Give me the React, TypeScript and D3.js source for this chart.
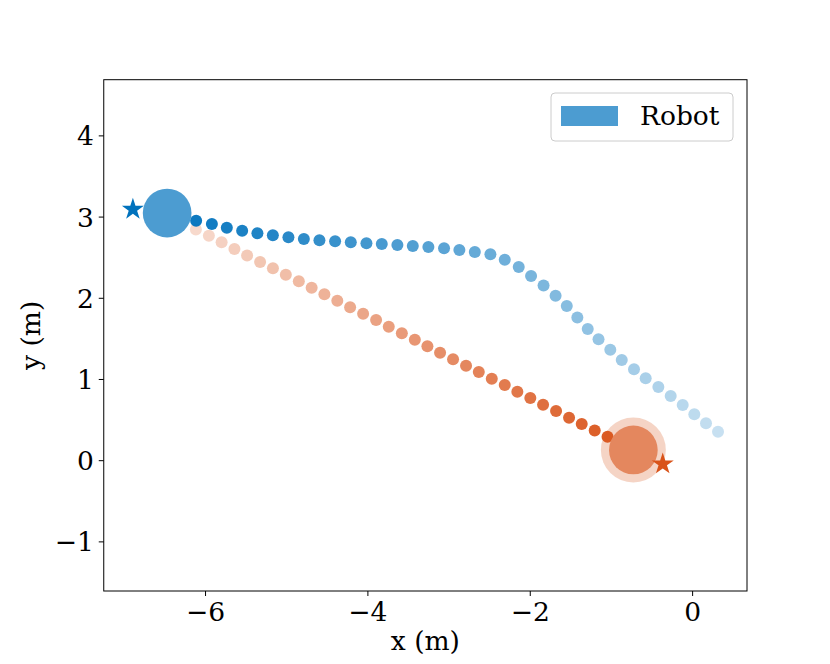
import * as d3 from 'd3';

// robot trajectory (blue), fades out along the path
const blueX = [-6.116, -5.922, -5.738, -5.549, -5.361, -5.171, -4.979, -4.789, -4.597, -4.404, -4.211, -4.018, -3.829, -3.637, -3.447, -3.255, -3.062, -2.873, -2.683, -2.491, -2.314, -2.142, -1.99, -1.836, -1.688, -1.55, -1.42, -1.292, -1.159, -1.014, -0.873, -0.722, -0.578, -0.422, -0.27, -0.122, 0.021, 0.165, 0.313];
const blueY = [2.956, 2.915, 2.869, 2.833, 2.8, 2.776, 2.751, 2.73, 2.714, 2.702, 2.691, 2.677, 2.669, 2.656, 2.644, 2.632, 2.616, 2.595, 2.57, 2.542, 2.475, 2.385, 2.275, 2.158, 2.032, 1.905, 1.764, 1.622, 1.495, 1.367, 1.24, 1.126, 1.015, 0.908, 0.797, 0.686, 0.571, 0.461, 0.357];

// human trajectory (orange)
const orangeX = [-6.119, -5.959, -5.802, -5.644, -5.488, -5.328, -5.17, -5.011, -4.851, -4.693, -4.536, -4.377, -4.219, -4.059, -3.899, -3.743, -3.582, -3.422, -3.267, -3.111, -2.951, -2.791, -2.634, -2.474, -2.314, -2.159, -1.999, -1.842, -1.682, -1.522, -1.366, -1.206, -1.048];
const orangeY = [2.847, 2.77, 2.69, 2.607, 2.527, 2.447, 2.369, 2.289, 2.211, 2.131, 2.05, 1.97, 1.89, 1.81, 1.733, 1.65, 1.569, 1.49, 1.409, 1.33, 1.249, 1.17, 1.092, 1.01, 0.932, 0.85, 0.772, 0.69, 0.612, 0.53, 0.452, 0.372, 0.296];

const robotPos = [-6.473, 3.05];
const robotGoal = [-6.895, 3.096];
const humanPos = [-0.73, 0.132];
const humanGoal = [-0.368, -0.041];
const bodyRadius = 0.3;
const haloRadius = 0.4;

const xTicks = [-6, -4, -2, 0];
const yTicks = [-1, 0, 1, 2, 3, 4];
const legendLabels = ['Robot'];

const BLUE = '#0072bd';
const ORANGE = '#d95319';
// 0.7 alpha of the base colours over white
const BLUE_BODY = '#4c9cd1';
const ORANGE_BODY = '#e4875e';
const FONT = 'DejaVu Serif, serif';

export default function App() {
  const width = 830;
  const height = 664;
  const margin = { top: 79.7, right: 83, bottom: 73, left: 103.75 };

  const x = d3.scaleLinear().domain([-7.254, 0.67]).range([margin.left, width - margin.right]);
  const y = d3.scaleLinear().domain([-1.605, 4.692]).range([height - margin.bottom, margin.top]);

  const blueAlpha = d3.scaleLinear().domain([0, blueX.length - 1]).range([0.95, 0.22]);
  const orangeAlpha = d3.scaleLinear().domain([0, orangeX.length - 1]).range([0.22, 0.95]);

  const rPx = (r: number) => x(r) - x(0);
  const star = d3.symbol().type(d3.symbolStar).size(150)();
  const dotR = 6;

  const [x0, x1] = x.range();
  const [y0, y1] = y.range();

  return (
    <svg width={width} height={height} style={{ position: 'absolute', left: 0, top: 0 }} fontFamily={FONT}>
      <rect width={width} height={height} fill="#fff" />

      {/* human halo under everything */}
      <circle cx={x(humanPos[0])} cy={y(humanPos[1])} r={rPx(haloRadius)} fill={ORANGE} fillOpacity={0.25} />

      {orangeX.map((d, i) => (
        <circle key={'o' + i} cx={x(d)} cy={y(orangeY[i])} r={dotR} fill={ORANGE} fillOpacity={orangeAlpha(i)} />
      ))}
      {blueX.map((d, i) => (
        <circle key={'b' + i} cx={x(d)} cy={y(blueY[i])} r={dotR} fill={BLUE} fillOpacity={blueAlpha(i)} />
      ))}

      <circle cx={x(robotPos[0])} cy={y(robotPos[1])} r={rPx(bodyRadius)} fill={BLUE_BODY} />
      <circle cx={x(humanPos[0])} cy={y(humanPos[1])} r={rPx(bodyRadius)} fill={ORANGE_BODY} />

      <path d={star!} transform={`translate(${x(robotGoal[0])},${y(robotGoal[1])})`} fill={BLUE} />
      <path d={star!} transform={`translate(${x(humanGoal[0])},${y(humanGoal[1])})`} fill={ORANGE} />

      {/* frame */}
      <rect x={x0} y={y1} width={x1 - x0} height={y0 - y1} fill="none" stroke="#000" strokeWidth={1} />

      {/* x axis */}
      {xTicks.map((t) => (
        <g key={'xt' + t} transform={`translate(${x(t)},${y0})`}>
          <line y2={5} stroke="#000" strokeWidth={1} />
          <text y={30} textAnchor="middle" fontSize={26.5}>
            {t < 0 ? '\u2212' + Math.abs(t) : t}
          </text>
        </g>
      ))}
      <text x={(x0 + x1) / 2} y={650} textAnchor="middle" fontSize={26.5}>x (m)</text>

      {/* y axis */}
      {yTicks.map((t) => (
        <g key={'yt' + t} transform={`translate(${x0},${y(t)})`}>
          <line x2={-5} stroke="#000" strokeWidth={1} />
          <text x={-10} dy="0.36em" textAnchor="end" fontSize={26.5}>
            {t < 0 ? '\u2212' + Math.abs(t) : t}
          </text>
        </g>
      ))}
      <text transform={`translate(40,${(y0 + y1) / 2}) rotate(-90)`} textAnchor="middle" fontSize={26.5}>y (m)</text>

      {/* legend */}
      <g transform="translate(551,93)">
        <rect width={182} height={48} rx={4} fill="#fff" fillOpacity={0.8} stroke="#cccccc" strokeWidth={1} />
        <rect x={10} y={13} width={57} height={20} fill={BLUE_BODY} />
        <text x={89} y={32} fontSize={26.5}>{legendLabels[0]}</text>
      </g>
    </svg>
  );
}
